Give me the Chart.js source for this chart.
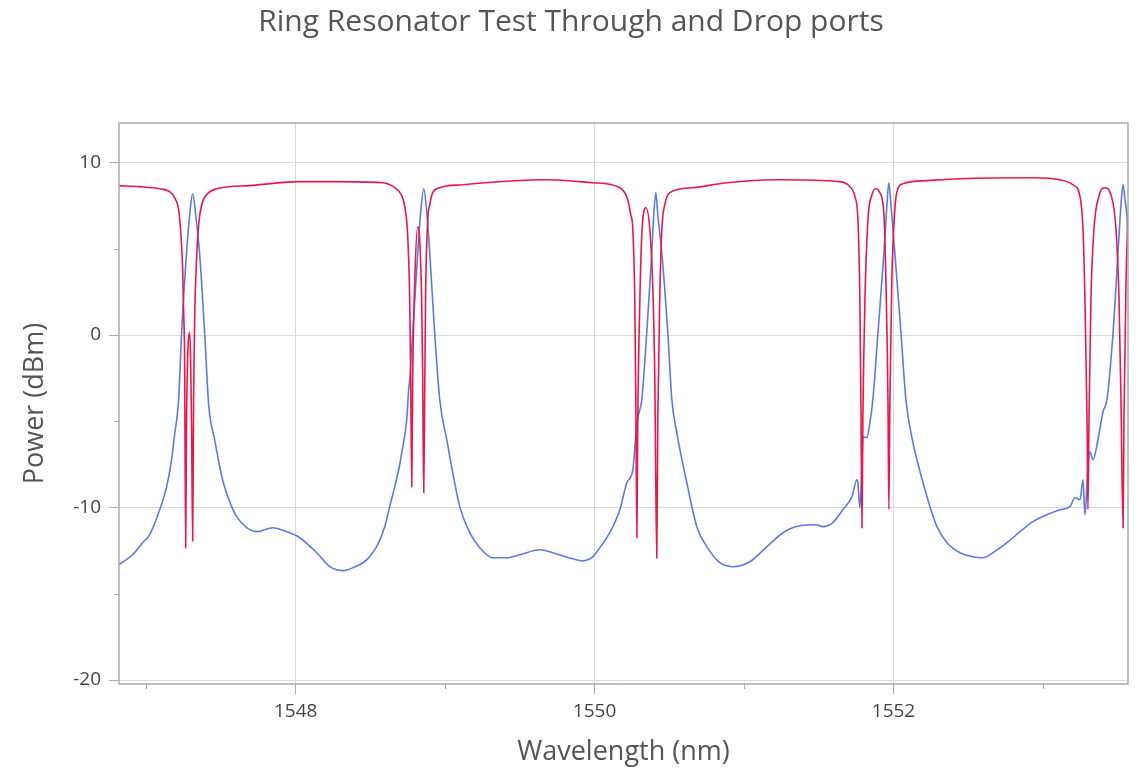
<!DOCTYPE html>
<html>
<head>
<meta charset="utf-8">
<title>Ring Resonator Test Through and Drop ports</title>
<script src="https://cdn.jsdelivr.net/npm/chart.js@4.4.1/dist/chart.umd.min.js"></script>
<style>
  html, body { margin: 0; padding: 0; background: #fff; }
  #wrap { width: 1146px; height: 774px; position: relative; }
</style>
</head>
<body>
<div id="wrap"><canvas id="ring-chart"></canvas></div>
<script>
// Through port (red) - wavelength in nm, power in dBm
const throughWl = [
  1546.818, 1546.956, 1547.090, 1547.157, 1547.190, 1547.217, 1547.230, 1547.244, 1547.250, 1547.257,
  1547.264, 1547.270, 1547.277, 1547.291, 1547.297, 1547.304, 1547.311, 1547.317, 1547.324, 1547.337,
  1547.351, 1547.371, 1547.404, 1547.471, 1547.692, 1548.027, 1548.248, 1548.582, 1548.663, 1548.710,
  1548.730, 1548.750, 1548.763, 1548.770, 1548.777, 1548.783, 1548.797, 1548.817, 1548.830, 1548.843,
  1548.850, 1548.857, 1548.864, 1548.870, 1548.884, 1548.897, 1548.917, 1548.964, 1549.118, 1549.680,
  1549.988, 1550.169, 1550.222, 1550.242, 1550.256, 1550.269, 1550.276, 1550.283, 1550.289, 1550.303,
  1550.316, 1550.343, 1550.370, 1550.390, 1550.403, 1550.416, 1550.423, 1550.436, 1550.450, 1550.470,
  1550.503, 1550.657, 1550.885, 1551.220, 1551.641, 1551.708, 1551.742, 1551.762, 1551.775, 1551.782,
  1551.789, 1551.795, 1551.809, 1551.829, 1551.856, 1551.882, 1551.909, 1551.936, 1551.949, 1551.963,
  1551.969, 1551.976, 1551.989, 1552.009, 1552.023, 1552.063, 1552.224, 1552.445, 1552.933, 1553.114,
  1553.201, 1553.248, 1553.268, 1553.281, 1553.295, 1553.301, 1553.308, 1553.321, 1553.341, 1553.375,
  1553.415, 1553.455, 1553.489, 1553.509, 1553.522, 1553.536, 1553.542, 1553.556, 1553.569
];
const throughDbm = [
  8.66, 8.60, 8.48, 8.31, 7.96, 7.26, 6.10, 3.79, 1.47, -1.43,
  -12.34, -4.91, -1.43, 0.13, -1.43, -5.49, -11.94, -3.75, 0.89, 4.37,
  6.39, 7.55, 8.13, 8.48, 8.66, 8.89, 8.89, 8.83, 8.54, 8.07,
  7.44, 5.70, 2.05, -2.59, -8.79, -2.59, 3.21, 6.28, 5.52, 2.05,
  -2.59, -9.14, -2.59, 2.63, 6.68, 7.55, 8.25, 8.54, 8.71, 9.00,
  8.83, 8.54, 7.84, 6.97, 6.10, 2.05, -3.75, -11.75, -4.91, 2.05,
  5.81, 7.38, 6.10, 2.63, -2.59, -12.92, -4.91, 2.05, 6.10, 7.55,
  8.25, 8.54, 8.83, 9.00, 8.89, 8.60, 8.02, 6.68, 2.05, -3.75,
  -11.17, -4.91, 2.05, 6.68, 8.13, 8.48, 8.25, 6.97, 3.21, -3.75,
  -10.11, -3.75, 3.21, 7.26, 8.31, 8.77, 8.95, 9.06, 9.12, 9.00,
  8.71, 8.02, 6.10, 2.05, -4.91, -10.11, -4.91, 2.05, 6.10, 8.07,
  8.54, 8.13, 6.10, 2.05, -3.75, -11.17, -4.91, 3.21, 6.97
];

// Drop port (blue)
const dropWl = [
  1546.818, 1546.909, 1546.976, 1547.023, 1547.090, 1547.137, 1547.170, 1547.190, 1547.204, 1547.217,
  1547.237, 1547.270, 1547.291, 1547.311, 1547.331, 1547.357, 1547.391, 1547.418, 1547.458, 1547.511,
  1547.572, 1547.605, 1547.672, 1547.739, 1547.846, 1547.940, 1548.027, 1548.141, 1548.228, 1548.315,
  1548.382, 1548.475, 1548.542, 1548.596, 1548.629, 1548.663, 1548.696, 1548.710, 1548.743, 1548.756,
  1548.763, 1548.783, 1548.817, 1548.837, 1548.857, 1548.877, 1548.897, 1548.930, 1548.964, 1549.011,
  1549.098, 1549.165, 1549.232, 1549.319, 1549.412, 1549.499, 1549.633, 1549.720, 1549.854, 1549.921,
  1549.988, 1550.035, 1550.102, 1550.169, 1550.216, 1550.256, 1550.276, 1550.283, 1550.303, 1550.316,
  1550.349, 1550.383, 1550.396, 1550.410, 1550.423, 1550.450, 1550.490, 1550.517, 1550.550, 1550.617,
  1550.684, 1550.751, 1550.838, 1550.925, 1551.039, 1551.153, 1551.260, 1551.374, 1551.487, 1551.528,
  1551.594, 1551.661, 1551.722, 1551.755, 1551.762, 1551.775, 1551.789, 1551.795, 1551.822, 1551.842,
  1551.862, 1551.896, 1551.936, 1551.956, 1551.969, 1551.983, 1552.009, 1552.050, 1552.083, 1552.130,
  1552.157, 1552.224, 1552.291, 1552.358, 1552.445, 1552.532, 1552.599, 1552.665, 1552.759, 1552.846,
  1552.933, 1553.027, 1553.114, 1553.181, 1553.214, 1553.248, 1553.268, 1553.281, 1553.301, 1553.315,
  1553.335, 1553.368, 1553.402, 1553.428, 1553.469, 1553.502, 1553.522, 1553.536, 1553.549, 1553.562,
  1553.569
];
const dropDbm = [
  -13.32, -12.74, -12.04, -11.58, -10.13, -8.79, -7.23, -5.78, -4.91, -3.75,
  0.13, 4.77, 6.97, 8.19, 6.97, 4.77, 0.13, -4.04, -6.07, -8.39,
  -9.95, -10.53, -11.17, -11.40, -11.17, -11.40, -11.75, -12.62, -13.43, -13.66,
  -13.49, -13.03, -12.27, -11.11, -9.95, -8.79, -7.52, -6.82, -4.91, -3.17,
  -2.59, 0.13, 4.77, 7.15, 8.48, 7.15, 4.77, 0.13, -3.75, -6.07,
  -9.95, -11.46, -12.33, -12.91, -12.91, -12.74, -12.45, -12.62, -12.97, -13.09,
  -12.85, -12.33, -11.46, -10.13, -8.56, -7.81, -5.78, -5.09, -4.33, -3.75,
  0.13, 4.77, 6.97, 8.25, 6.97, 4.77, 0.13, -3.75, -5.66, -8.56,
  -11.11, -12.27, -13.20, -13.43, -13.14, -12.27, -11.46, -11.06, -11.00, -11.11,
  -10.88, -10.13, -9.37, -8.39, -8.56, -10.01, -7.63, -5.90, -5.95, -5.09,
  -3.75, 0.13, 4.77, 7.55, 8.83, 7.55, 4.77, 0.13, -3.75, -6.24,
  -7.23, -9.37, -11.11, -12.04, -12.62, -12.85, -12.91, -12.62, -12.04, -11.40,
  -10.82, -10.42, -10.13, -9.95, -9.43, -9.55, -8.39, -10.42, -7.63, -6.77,
  -7.23, -6.07, -4.45, -3.75, 0.13, 4.77, 7.55, 8.71, 7.84, 6.86,
  5.52
];

// Axis ticks
const xLabelTicks = [1548, 1550, 1552];
const xMinorTicks = [1547, 1549, 1551, 1553];
const yLabelTicks = [-20, -10, 0, 10];
const yMinorTicks = [-15, -5, 5];

const FONT = "'Open Sans', 'Noto Sans', sans-serif";
const GRID = '#d9d9d9';
const FRAME = '#ababab';

const toPoints = (xs, ys) => xs.map((x, i) => ({ x, y: ys[i] }));

// Frame around the plot + short minor tick marks
const framePlugin = {
  id: 'frame',
  afterDraw(chart) {
    const { ctx, chartArea: a, scales } = chart;
    ctx.save();
    ctx.strokeStyle = FRAME;
    ctx.lineWidth = 1.5;
    ctx.strokeRect(a.left, a.top, a.right - a.left, a.bottom - a.top);
    ctx.lineWidth = 1;
    ctx.beginPath();
    xMinorTicks.forEach(v => {
      const px = Math.round(scales.x.getPixelForValue(v)) + 0.5;
      ctx.moveTo(px, a.bottom);
      ctx.lineTo(px, a.bottom + 5);
    });
    yMinorTicks.forEach(v => {
      const py = Math.round(scales.y.getPixelForValue(v)) + 0.5;
      ctx.moveTo(a.left - 5, py);
      ctx.lineTo(a.left, py);
    });
    ctx.stroke();
    ctx.restore();
  }
};

const canvas = document.getElementById('ring-chart');
new Chart(canvas.getContext('2d'), {
  type: 'line',
  data: {
    datasets: [
      {
        label: 'Through',
        data: toPoints(throughWl, throughDbm),
        borderColor: '#e8184a',
        borderWidth: 1.6,
        pointRadius: 0,
        cubicInterpolationMode: 'monotone',
      },
      {
        label: 'Drop',
        data: toPoints(dropWl, dropDbm),
        borderColor: '#5a7be6',
        borderWidth: 1.6,
        pointRadius: 0,
        cubicInterpolationMode: 'monotone',
      }
    ]
  },
  options: {
    responsive: true,
    maintainAspectRatio: false,
    animation: false,
    layout: { padding: { left: 14, right: 18, top: 0, bottom: 0 } },
    plugins: {
      legend: { display: false },
      tooltip: { enabled: false },
      title: {
        display: true,
        text: 'Ring Resonator Test Through and Drop ports',
        color: '#555555',
        font: { family: FONT, size: 30, weight: 'normal' },
        padding: { top: 4, bottom: 83 },
      }
    },
    scales: {
      x: {
        type: 'linear',
        min: 1546.818,
        max: 1553.569,
        afterBuildTicks: s => { s.ticks = xLabelTicks.map(v => ({ value: v })); },
        afterFit: s => { s.height = 90; },
        grid: { color: GRID, tickColor: FRAME, tickLength: 10 },
        border: { display: false },
        ticks: {
          color: '#444444',
          font: { family: FONT, size: 19 },
          padding: 6,
          maxRotation: 0,
          callback: v => String(v),
        },
        title: {
          display: true,
          text: 'Wavelength (nm)',
          color: '#555555',
          font: { family: FONT, size: 27 },
          padding: { top: 0, bottom: 5 },
        }
      },
      y: {
        type: 'linear',
        min: -20.23,
        max: 12.29,
        afterBuildTicks: s => { s.ticks = yLabelTicks.map(v => ({ value: v })); },
        afterFit: s => { s.width = 105; },
        grid: { color: GRID, tickColor: FRAME, tickLength: 10 },
        border: { display: false },
        ticks: {
          color: '#444444',
          font: { family: FONT, size: 19 },
          padding: 8,
          callback: v => String(v),
        },
        title: {
          display: true,
          text: 'Power (dBm)',
          color: '#555555',
          font: { family: FONT, size: 27 },
          padding: { top: 5, bottom: 0 },
        }
      }
    }
  },
  plugins: [framePlugin]
});
</script>
</body>
</html>
